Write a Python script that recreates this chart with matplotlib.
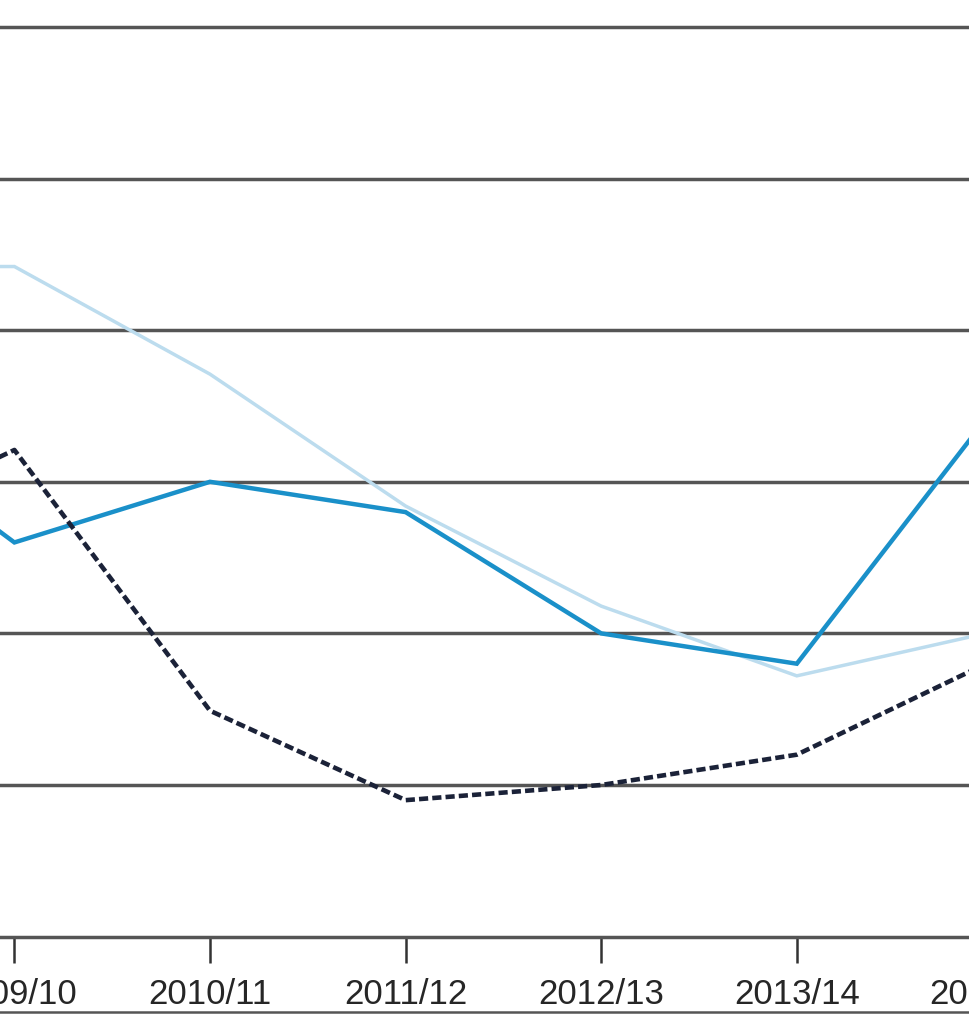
import matplotlib.pyplot as plt
from matplotlib.lines import Line2D

years = ['2008/09', '2009/10', '2010/11', '2011/12', '2012/13', '2013/14', '2014/15']
light_series = [4.42, 4.42, 3.71, 2.84, 2.18, 1.72, 2.01]
blue_series = [3.56, 2.60, 3.00, 2.80, 2.00, 1.80, 3.47]
dashed_series = [2.60, 3.21, 1.49, 0.90, 1.00, 1.20, 1.82]
grid_levels = [1, 2, 3, 4, 5, 6, 7]

W, H = 970, 1024
fig = plt.figure(figsize=(W / 100, H / 100), dpi=100)

# axes deliberately larger than the figure: the reference is a crop
x0_px, step_px = -181.2, 195.6
y0_px, unit_px = 936.6, 151.6
n = len(years) - 1
ymax = 7
ax = fig.add_axes([x0_px / W, (H - y0_px) / H,
                   n * step_px / W, ymax * unit_px / H])

xs = list(range(len(years)))
ax.plot(xs, light_series, color='#bcdcee', lw=2.5, zorder=3,
        solid_joinstyle='miter')
ax.plot(xs, blue_series, color='#1a90c9', lw=3.2, zorder=4,
        solid_joinstyle='miter')
ax.plot(xs, dashed_series, color='#1b2238', lw=3.3, zorder=5,
        linestyle=(0, (2.0, 0.9)))

for g in grid_levels:
    ax.axhline(g, color='#555555', lw=2.5, zorder=1)

ax.set_xlim(0, n)
ax.set_ylim(0, ymax)
ax.set_xticks(xs)
ax.set_xticklabels(years, family=['Liberation Sans', 'DejaVu Sans'],
                   fontsize=25, color='#262626')
ax.set_yticks([])
ax.tick_params(axis='x', direction='out', length=19, width=1.8,
               color='#333333', pad=11)
for side in ['top', 'left', 'right']:
    ax.spines[side].set_visible(False)
ax.spines['bottom'].set_color('#555555')
ax.spines['bottom'].set_linewidth(2.5)

# frame line under the tick labels
fig.add_artist(Line2D([0, 1], [(H - 1012) / H] * 2, color='#555555', lw=1.8))

fig.savefig('out.png', dpi=100)
